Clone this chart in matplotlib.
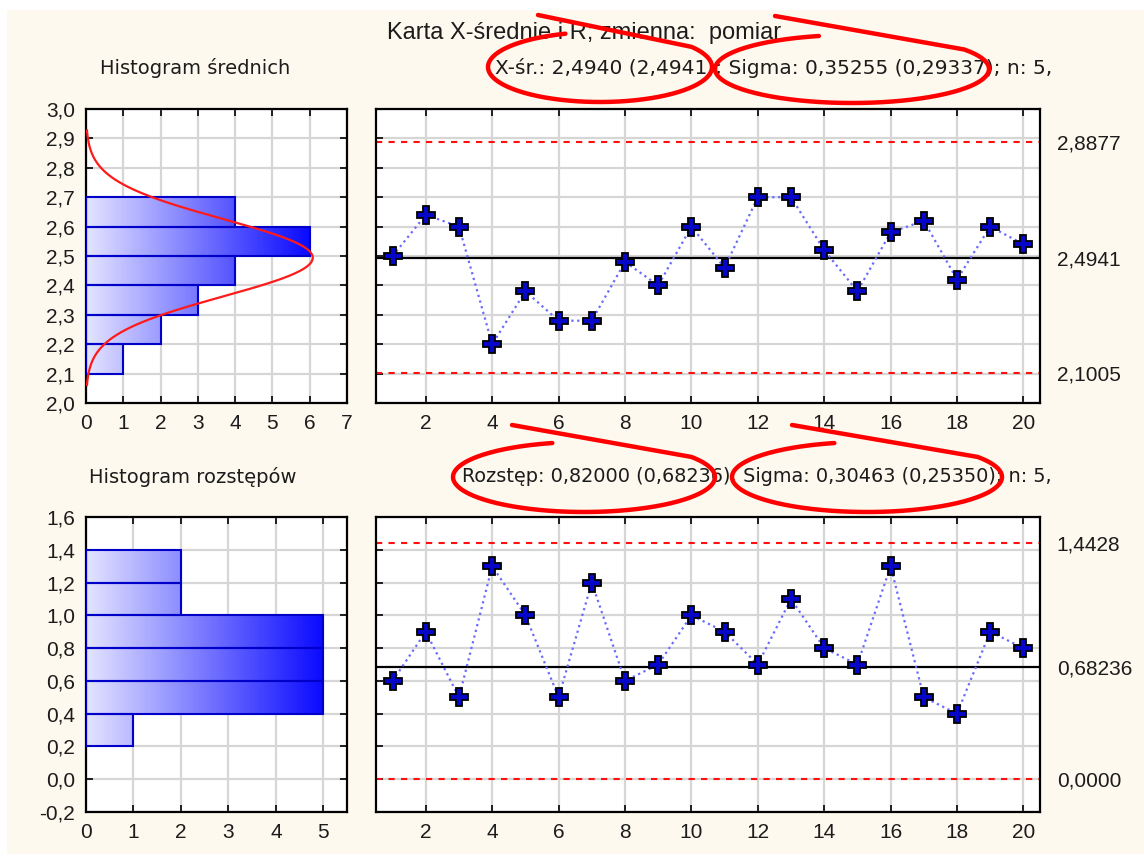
import numpy as np
import matplotlib
matplotlib.use("Agg")
import matplotlib.pyplot as plt
from matplotlib.colors import LinearSegmentedColormap
from matplotlib.patches import Rectangle
from matplotlib.transforms import Affine2D
from matplotlib.ticker import FuncFormatter, MultipleLocator

plt.rcParams['font.family'] = ['Liberation Sans', 'DejaVu Sans']

# sample means and ranges of the 20 subgroups (n = 5)
samples = list(range(1, 21))
means = [2.50, 2.64, 2.60, 2.20, 2.38, 2.28, 2.28, 2.48, 2.40, 2.60,
         2.46, 2.70, 2.70, 2.52, 2.38, 2.58, 2.62, 2.42, 2.60, 2.54]
ranges = [0.6, 0.9, 0.5, 1.3, 1.0, 0.5, 1.2, 0.6, 0.7, 1.0,
          0.9, 0.7, 1.1, 0.8, 0.7, 1.3, 0.5, 0.4, 0.9, 0.8]
n_sub = 5

# histogram class edges
mean_bins = [2.1, 2.2, 2.3, 2.4, 2.5, 2.6, 2.7]
range_bins = [0.2, 0.4, 0.6, 0.8, 1.0, 1.2, 1.4]

# control limits: LCL, center, UCL (+ decimals shown on the right)
x_limits = [2.1005, 2.4941, 2.8877]
x_limit_dec = [4, 4, 4]
r_limits = [0.0, 0.68236, 1.4428]
r_limit_dec = [4, 5, 4]

# summary numbers printed above the charts
x_mean_est = 2.4941
x_sigma = [0.35255, 0.29337]
r_mean_est = 0.68236
r_sigma = [0.30463, 0.25350]

W, H = 1144, 856
fig = plt.figure(figsize=(W / 100, H / 100), dpi=100, facecolor='white')
# pixel coordinates, origin top-left
px = Affine2D().scale(1 / W, -1 / H).translate(0, 1) + fig.transFigure

fig.patches.append(Rectangle((7, 10), W - 7, 844, transform=px,
                             facecolor='#FEF9EE', edgecolor='none', zorder=-10))


def comma(v, dec):
    return f"{round(v, dec) + 0.0:.{dec}f}".replace('.', ',')


def axes_px(x0, y0, x1, y1):
    return fig.add_axes([x0 / W, 1 - y1 / H, (x1 - x0) / W, (y1 - y0) / H])


def style(ax):
    ax.set_facecolor('white')
    for s in ax.spines.values():
        s.set_linewidth(1.6)
        s.set_color('black')
    ax.grid(True, color='#D6D6D6', lw=1.6, zorder=0)
    ax.set_axisbelow(True)
    ax.tick_params(direction='in', length=5, width=1.2, left=True, right=True,
                   top=True, bottom=True, labelsize=15, pad=8, colors='black',
                   labelcolor='#1C1C1C')


bar_cmap = LinearSegmentedColormap.from_list('bars', ['#E4E4FF', '#0A0AFF'])


def histogram(ax, data, bins, xmax, ylim, ystep):
    idx = np.digitize(data, bins, right=True)
    counts = np.bincount(idx, minlength=len(bins))[1:len(bins)]
    cmax = counts.max()
    for lo, hi, c in zip(bins[:-1], bins[1:], counts):
        if c == 0:
            continue
        grad = np.linspace(0, c, 200).reshape(1, -1)
        ax.imshow(grad, extent=(0, c, lo, hi), cmap=bar_cmap, vmin=0, vmax=cmax,
                  aspect='auto', interpolation='bilinear', zorder=2)
    ax.barh(bins[:-1], counts, height=np.diff(bins), align='edge', fill=False,
            edgecolor='#0000C8', lw=1.5, zorder=3)
    style(ax)
    ax.set_xlim(0, xmax)
    ax.set_ylim(*ylim)
    ax.xaxis.set_major_locator(MultipleLocator(1))
    ax.yaxis.set_major_locator(MultipleLocator(ystep))
    ax.yaxis.set_major_formatter(FuncFormatter(lambda v, p: comma(v, 1)))
    return counts


def control_chart(ax, values, limits, decs, ylim, ystep):
    style(ax)
    ax.plot(samples, values, ls=':', color='#6A6AFF', lw=1.6, zorder=3)
    ax.plot(samples, values, ls='none', marker='P', ms=13, mfc='#0606C8',
            mec='black', mew=1.3, zorder=4)
    ax.axhline(limits[1], color='black', lw=1.6, zorder=2)
    for lim in (limits[0], limits[2]):
        ax.axhline(lim, color='#FF1010', lw=1.5, ls=(0, (3, 3)), zorder=2)
    ax.set_xlim(0.5, 20.5)
    ax.set_ylim(*ylim)
    ax.set_xticks(range(2, 21, 2))
    ax.yaxis.set_major_locator(MultipleLocator(ystep))
    ax.tick_params(labelleft=False)
    tw = ax.twinx()
    tw.set_ylim(*ylim)
    tw.set_yticks(limits)
    tw.set_yticklabels([comma(v, d) for v, d in zip(limits, decs)])
    tw.tick_params(length=0, pad=12, labelsize=15, labelcolor='#1C1C1C')
    for s in tw.spines.values():
        s.set_visible(False)


# means
ax_hm = axes_px(86, 109, 347, 403)
histogram(ax_hm, means, mean_bins, 7, (2.0, 3.0), 0.1)
sig_m = x_sigma[1] / np.sqrt(n_sub)
yy = np.linspace(x_mean_est - 3.3 * sig_m, x_mean_est + 3.3 * sig_m, 300)
binw = mean_bins[1] - mean_bins[0]
pdf = np.exp(-0.5 * ((yy - x_mean_est) / sig_m) ** 2) / (sig_m * np.sqrt(2 * np.pi))
ax_hm.plot(len(means) * binw * pdf, yy, color='#FF1A1A', lw=1.6, zorder=4)

ax_xm = axes_px(376, 109, 1040, 403)
control_chart(ax_xm, means, x_limits, x_limit_dec, (2.0, 3.0), 0.1)

# ranges
ax_hr = axes_px(86, 517, 347, 812)
histogram(ax_hr, ranges, range_bins, 5.5, (-0.2, 1.6), 0.2)
ax_hr.set_xticks(range(0, 6))

ax_r = axes_px(376, 517, 1040, 812)
control_chart(ax_r, ranges, r_limits, r_limit_dec, (-0.2, 1.6), 0.2)

# titles
fig.text(584, 33, 'Karta X-średnie i R; zmienna:  pomiar', transform=px,
         ha='center', va='center', fontsize=17, color='#1C1C1C')
fig.text(195, 68, 'Histogram średnich', transform=px, ha='center', va='center',
         fontsize=14, family='DejaVu Sans', color='#1C1C1C')
fig.text(193, 477, 'Histogram rozstępów', transform=px, ha='center', va='center',
         fontsize=14, family='DejaVu Sans', color='#1C1C1C')

top_info = (f"X-śr.: {comma(np.mean(means), 4)} ({comma(x_mean_est, 4)}); "
            f"Sigma: {comma(x_sigma[0], 5)} ({comma(x_sigma[1], 5)}); n: {n_sub},")
bot_info = (f"Rozstęp: {comma(np.mean(ranges), 5)} ({comma(r_mean_est, 5)}); "
            f"Sigma: {comma(r_sigma[0], 5)} ({comma(r_sigma[1], 5)}); n: {n_sub},")
fig.text(1052, 68, top_info, transform=px, ha='right', va='center',
         fontsize=14.5, family='DejaVu Sans', color='#1C1C1C')
fig.text(1052, 477, bot_info, transform=px, ha='right', va='center',
         fontsize=13.9, family='DejaVu Sans', color='#1C1C1C')


# red hand-drawn loops around the summary numbers
def scribble(cx, cy, a, b, start, t0, t1):
    t = np.radians(np.linspace(t0, t1, 200))
    xs = np.concatenate([[start[0]], cx + a * np.cos(t)])
    ys = np.concatenate([[start[1]], cy + b * np.sin(t)])
    fig.add_artist(plt.Line2D(xs, ys, transform=px, color='#FF0000', lw=3.2,
                              solid_capstyle='round', solid_joinstyle='round',
                              zorder=20))


scribble(600, 67, 112, 35, (538, 15), -35, 252)
scribble(852, 69, 137, 34, (775, 16), -35, 256)
scribble(584, 477, 131, 35, (512, 425), -35, 256)
scribble(867, 477, 135, 35, (792, 425), -35, 256)

fig.savefig('out.png', dpi=100, facecolor=fig.get_facecolor())
